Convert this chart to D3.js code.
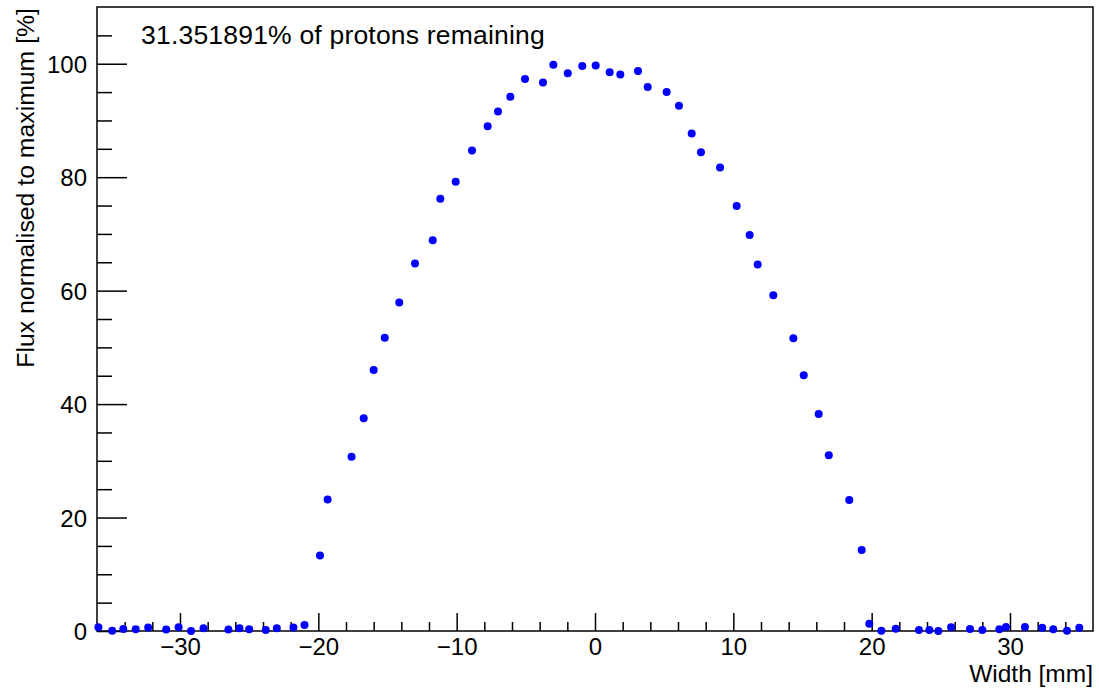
<!DOCTYPE html>
<html>
<head>
<meta charset="utf-8">
<script src="https://cdn.jsdelivr.net/npm/d3@7"></script>
<style>
  html, body { margin: 0; padding: 0; background: #fff; }
  svg { display: block; font-family: "Liberation Sans", Arial, Helvetica, sans-serif; }
</style>
</head>
<body>
<div id="chart"></div>
<script>
// beam profile
const widthMm = [
  -35.9, -34.9, -34.1, -33.2, -32.3, -31.0, -30.1, -29.2, -28.3, -26.5, -25.7, -25.0,
  -23.8, -23.0, -21.8, -21.0,
  -19.88, -19.33, -17.6, -16.72, -16.0, -15.2, -14.15, -13.01, -11.73, -11.18, -10.07,
  -8.89, -7.76, -7.01, -6.12, -5.06, -3.76, -3.01, -1.97, -0.92, 0.05, 1.06, 1.83,
  3.11, 3.81, 5.18, 6.07, 6.99, 7.66, 9.04, 10.24, 11.18, 11.76, 12.89, 14.34, 15.09,
  16.17, 16.9, 18.38, 19.28, 19.83,
  20.7, 21.74, 23.42, 24.17, 24.82, 25.74, 27.11, 28.0, 29.23, 29.71, 31.08, 32.33,
  33.13, 34.12, 35.01
];
const fluxPct = [
  0.65, 0.05, 0.35, 0.3, 0.6, 0.25, 0.65, 0.0, 0.5, 0.25, 0.5, 0.3,
  0.18, 0.5, 0.6, 1.06,
  13.3, 23.2, 30.7, 37.5, 46.0, 51.7, 57.9, 64.8, 68.9, 76.2, 79.2,
  84.7, 89.0, 91.6, 94.2, 97.3, 96.7, 99.8, 98.3, 99.6, 99.7, 98.5, 98.1,
  98.7, 95.9, 95.0, 92.6, 87.7, 84.4, 81.7, 74.9, 69.8, 64.6, 59.2, 51.6, 45.1,
  38.25, 31.0, 23.1, 14.3, 1.3,
  0.05, 0.4, 0.18, 0.18, 0.0, 0.65, 0.35, 0.18, 0.3, 0.7, 0.7, 0.58,
  0.3, 0.05, 0.58
];
const xTickValues = [-30, -20, -10, 0, 10, 20, 30];
const yTickValues = [0, 20, 40, 60, 80, 100];
const xMinorStep = 2;
const yMinorStep = 5;
const remainingLabel = "31.351891% of protons remaining";
const xTitle = "Width [mm]";
const yTitle = "Flux normalised to maximum [%]";

const W = 1099, H = 691;
const margin = { top: 7, right: 6, bottom: 60, left: 97 };
const innerW = W - margin.left - margin.right;
const innerH = H - margin.top - margin.bottom;

const svg = d3.select('#chart').append('svg')
  .attr('width', W)
  .attr('height', H);

const g = svg.append('g')
  .attr('transform', `translate(${margin.left},${margin.top})`);

const x = d3.scaleLinear().domain([-36, 36]).range([0, innerW]);
const y = d3.scaleLinear().domain([0, 110]).range([innerH, 0]);

// minor ticks first, majors drawn over them
const xMinor = d3.range(-34, 36, xMinorStep).filter(v => !xTickValues.includes(v));
const yMinor = d3.range(5, 110, yMinorStep).filter(v => !yTickValues.includes(v));

// X axis (ticks point up into the frame)
g.append('g')
  .attr('transform', `translate(0,${innerH})`)
  .call(d3.axisTop(x).tickValues(xMinor).tickSize(9).tickFormat(''))
  .call(a => a.select('.domain').remove());

const xAxis = g.append('g')
  .attr('transform', `translate(0,${innerH})`)
  .call(d3.axisTop(x).tickValues(xTickValues).tickSize(18));
xAxis.select('.domain').remove();
xAxis.selectAll('text')
  .attr('y', 24)
  .attr('dy', 0)
  .attr('font-size', '24px')
  .attr('fill', '#000');

// Y axis (ticks point right into the frame)
g.append('g')
  .call(d3.axisRight(y).tickValues(yMinor).tickSize(15).tickFormat(''))
  .call(a => a.select('.domain').remove());

const yAxis = g.append('g')
  .call(d3.axisRight(y).tickValues(yTickValues).tickSize(30));
yAxis.select('.domain').remove();
yAxis.selectAll('text')
  .attr('x', -10)
  .attr('dy', '0.36em')
  .attr('text-anchor', 'end')
  .attr('font-size', '24px')
  .attr('fill', '#000');

g.selectAll('.tick line').attr('stroke', '#000').attr('stroke-width', 1.5);

// frame
g.append('rect')
  .attr('x', 0).attr('y', 0)
  .attr('width', innerW).attr('height', innerH)
  .attr('fill', 'none')
  .attr('stroke', '#000')
  .attr('stroke-width', 1.5);

// points
const pts = widthMm.map((d, i) => ({ w: d, f: fluxPct[i] }));
g.append('g')
  .selectAll('circle')
  .data(pts)
  .enter().append('circle')
  .attr('cx', d => x(d.w))
  .attr('cy', d => y(d.f))
  .attr('r', 4)
  .attr('fill', '#0000ff');

// annotation
svg.append('text')
  .attr('x', 141)
  .attr('y', 44)
  .attr('font-size', '26.5px')
  .attr('letter-spacing', '0.2px')
  .attr('fill', '#000')
  .text(remainingLabel);

// axis titles
svg.append('text')
  .attr('x', margin.left + innerW)
  .attr('y', 682)
  .attr('text-anchor', 'end')
  .attr('font-size', '24.5px')
  .attr('fill', '#000')
  .text(xTitle);

svg.append('text')
  .attr('transform', `translate(34,${margin.top + 1}) rotate(-90)`)
  .attr('text-anchor', 'end')
  .attr('font-size', '24.8px')
  .attr('fill', '#000')
  .text(yTitle);
</script>
</body>
</html>
